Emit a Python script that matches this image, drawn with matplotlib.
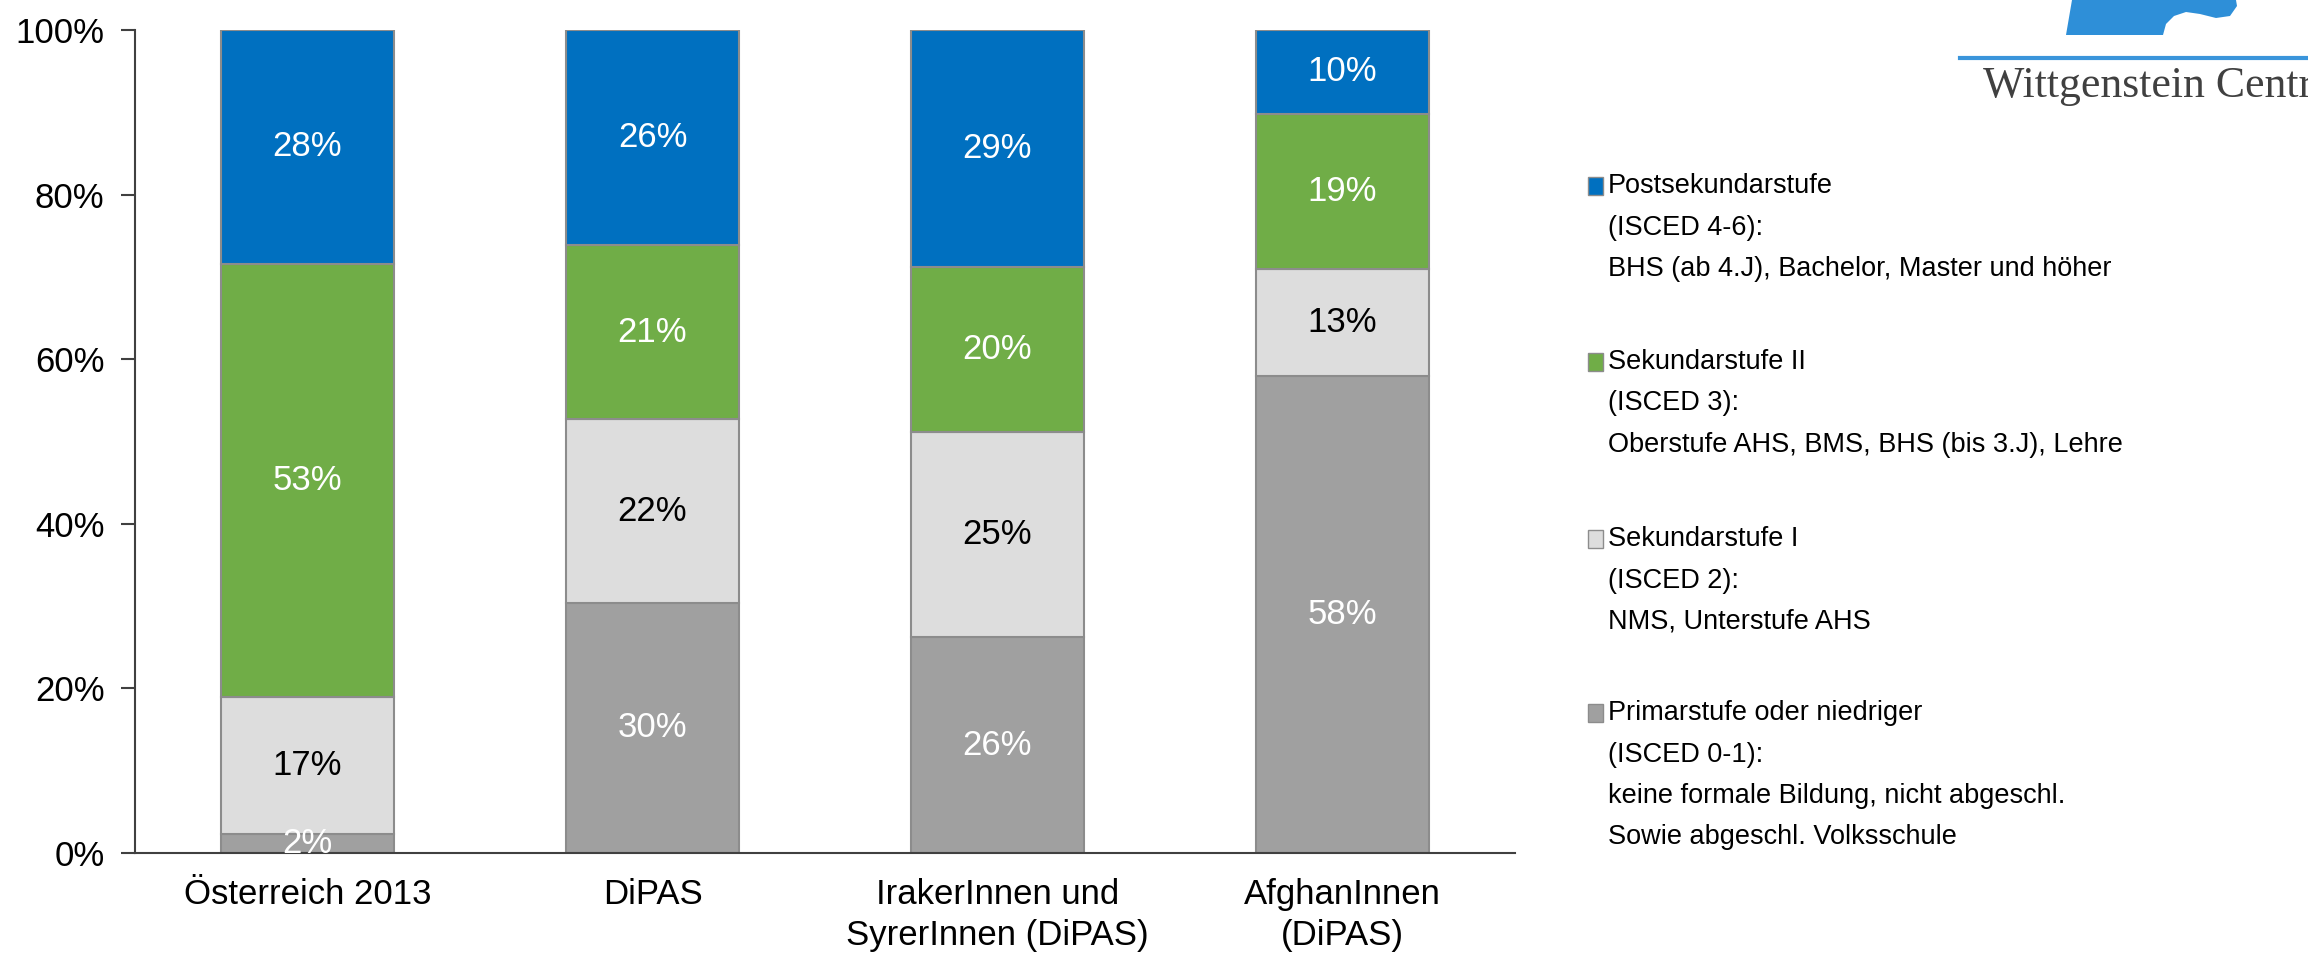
import numpy as np
import matplotlib
matplotlib.use("Agg")
import matplotlib.pyplot as plt
from matplotlib.patches import Rectangle, Polygon

plt.rcParams['font.family'] = ['Liberation Sans', 'DejaVu Sans']

# data (share in %)
groups = ["Österreich 2013", "DiPAS", "IrakerInnen und\nSyrerInnen (DiPAS)", "AfghanInnen\n(DiPAS)"]
primar = [2.3, 30.4, 26.2, 57.9]
sek1 = [16.6, 22.3, 25.0, 13.0]
sek2 = [52.7, 21.2, 20.0, 18.9]
post = [28.4, 26.1, 28.8, 10.2]

series = [primar, sek1, sek2, post]
colors = ["#A0A0A0", "#DDDDDD", "#70AD47", "#0070C0"]
label_colors = ["white", "black", "white", "white"]

legend_lines = [
    ["Postsekundarstufe", "(ISCED 4-6):", "BHS (ab 4.J), Bachelor, Master und höher"],
    ["Sekundarstufe II", "(ISCED 3):", "Oberstufe AHS, BMS, BHS (bis 3.J), Lehre"],
    ["Sekundarstufe I", "(ISCED 2):", "NMS, Unterstufe AHS"],
    ["Primarstufe oder niedriger", "(ISCED 0-1):", "keine formale Bildung, nicht abgeschl.",
     "Sowie abgeschl. Volksschule"],
]
legend_colors = ["#0070C0", "#70AD47", "#DDDDDD", "#A0A0A0"]

W, H = 2308, 955
fig = plt.figure(figsize=(W / 100, H / 100), dpi=100)
ax = fig.add_axes([135 / W, 1 - 853 / H, (1515 - 135) / W, (853 - 30) / H])

x = np.arange(len(groups))
bottom = np.zeros(len(groups))
for vals, c, lc in zip(series, colors, label_colors):
    vals = np.array(vals)
    ax.bar(x, vals, 0.5, bottom=bottom, color=c, edgecolor="#8C8C8C", linewidth=1.5)
    for xi, b, v in zip(x, bottom, vals):
        ax.text(xi, b + v / 2, "%d%%" % round(v), ha="center", va="center",
                color=lc, fontsize=25, clip_on=True)
    bottom += vals

ax.set_xlim(-0.5, 3.5)
ax.set_ylim(0, 100)
ax.set_yticks(range(0, 101, 20))
ax.set_yticklabels(["%d%%" % v for v in range(0, 101, 20)], fontsize=25)
ax.set_xticks(x)
ax.set_xticklabels(groups, fontsize=25, linespacing=1.3)
ax.tick_params(axis="x", length=0, pad=18)
ax.tick_params(axis="y", length=10, width=1.5, color="#404040", pad=12)
for s in ["top", "right"]:
    ax.spines[s].set_visible(False)
for s in ["left", "bottom"]:
    ax.spines[s].set_color("#404040")
    ax.spines[s].set_linewidth(1.5)

# legend drawn by hand, marker next to the first line
starts = [186, 362, 539, 713]
step = 41.5
for lines, c, y0 in zip(legend_lines, legend_colors, starts):
    fig.add_artist(Rectangle((1588 / W, 1 - (y0 + 9) / H), 15 / W, 18 / H,
                             transform=fig.transFigure, facecolor=c,
                             edgecolor="#8C8C8C", linewidth=1))
    for i, t in enumerate(lines):
        fig.text(1608 / W, 1 - (y0 + i * step) / H, t, va="center", ha="left",
                 fontsize=19.5)

# logo (cut off at the top right)
shape = [(2072, 0), (2066, 35), (2163, 35), (2166, 24), (2174, 16), (2186, 12),
         (2200, 14), (2216, 18), (2230, 16), (2237, 6), (2236, 0)]
fig.add_artist(Polygon([(px / W, 1 - py / H) for px, py in shape], closed=True,
                       transform=fig.transFigure, facecolor="#2E8FD8", edgecolor="none"))
fig.add_artist(plt.Line2D([1960 / W, 1.0], [1 - 58 / H, 1 - 58 / H],
                          transform=fig.transFigure, color="#3A95DB", linewidth=3))
fig.text(1983 / W, 1 - 97 / H, "Wittgenstein Centre", va="baseline", ha="left",
         fontsize=31.5, color="#404040", family=["Liberation Serif", "DejaVu Serif"])

fig.savefig("out.png", dpi=100)
